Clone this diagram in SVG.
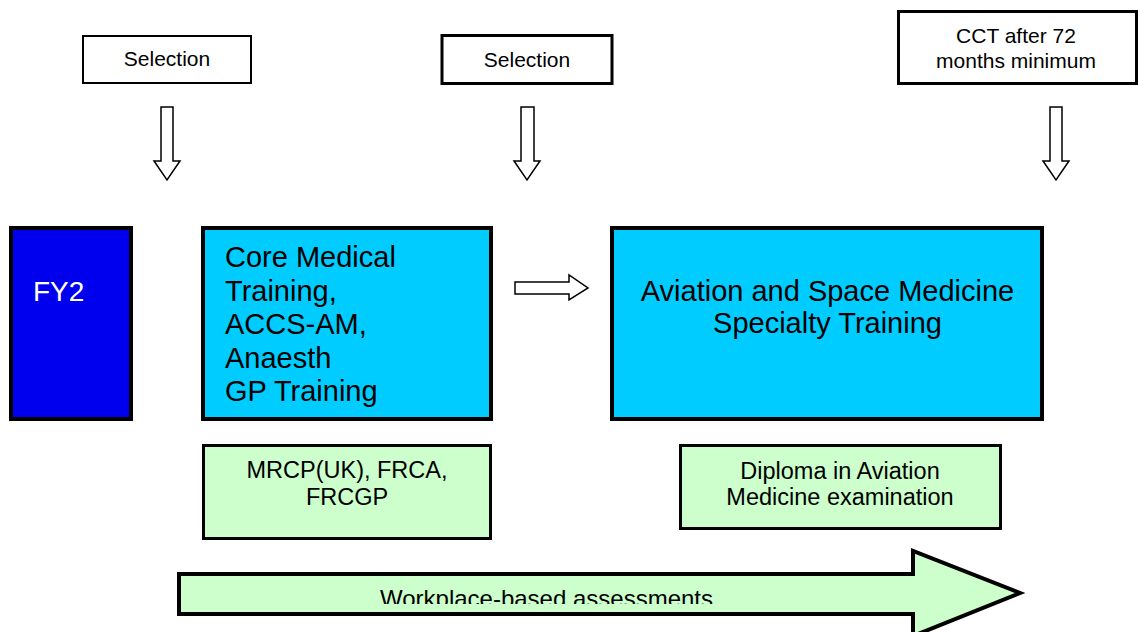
<svg xmlns="http://www.w3.org/2000/svg" width="1138" height="632" viewBox="0 0 1138 632">
<style>
text{font-family:"Liberation Sans",Arial,sans-serif;fill:#000}
.lbl{font-size:21px;text-anchor:middle}
.big{font-size:29px}
.mid{font-size:23.5px;text-anchor:middle}
.box{stroke:#000;stroke-width:3}
.down{fill:#fff;stroke:#000;stroke-width:1.5;stroke-linejoin:miter}
</style>
<defs>
<clipPath id="clipW"><rect x="0" y="0" width="1138" height="604"/></clipPath>
</defs>
<rect width="1138" height="632" fill="#fff"/>
<g id="sel1"><rect class="box" x="83" y="36" width="168" height="47" fill="#fff" style="stroke-width:2"/><text class="lbl" x="167" y="66">Selection</text></g>
<g id="sel2"><rect class="box" x="442" y="35.5" width="170" height="48" fill="#fff"/><text class="lbl" x="527" y="67">Selection</text></g>
<g id="cct"><rect class="box" x="898.5" y="11.5" width="238" height="72" fill="#fff"/><text class="lbl" x="1016" y="43">CCT after 72</text><text class="lbl" x="1016" y="68">months minimum</text></g>
<g id="fy2"><rect x="11" y="228" width="120" height="191" fill="#0000EE" stroke="#000" stroke-width="4"/><text x="33" y="301" style="font-size:28px;fill:#fff">FY2</text></g>
<g id="core"><rect x="203" y="228" width="288" height="191" fill="#00CCFF" stroke="#000" stroke-width="4"/>
<text class="big" x="225" y="267">Core Medical</text>
<text class="big" x="225" y="301">Training,</text>
<text class="big" x="225" y="334">ACCS-AM,</text>
<text class="big" x="225" y="368">Anaesth</text>
<text class="big" x="225" y="401">GP Training</text></g>
<g id="asm"><rect x="612" y="228" width="430" height="191" fill="#00CCFF" stroke="#000" stroke-width="4"/>
<text class="big" x="827.5" y="301" text-anchor="middle">Aviation and Space Medicine</text>
<text class="big" x="827.5" y="333" text-anchor="middle">Specialty Training</text></g>
<g id="mrcp"><rect x="203.5" y="445.5" width="287" height="93" fill="#CCFFCC" stroke="#000" stroke-width="3"/>
<text class="mid" x="347" y="478">MRCP(UK), FRCA,</text>
<text class="mid" x="347" y="505">FRCGP</text></g>
<g id="dam"><rect x="680.5" y="445.5" width="320" height="83" fill="#CCFFCC" stroke="#000" stroke-width="3"/>
<text class="mid" x="840" y="479">Diploma in Aviation</text>
<text class="mid" x="840" y="505">Medicine examination</text></g>
<g id="wba"><polygon points="179,574 913,574 913,551 1020,593 913,636 913,614 179,614" fill="#CCFFCC" stroke="#000" stroke-width="4" stroke-linejoin="miter"/>
<text x="546.5" y="607" text-anchor="middle" clip-path="url(#clipW)" style="font-size:24px">Workplace-based assessments</text></g>
<g id="connectors">
<polygon class="down" points="161,107 173,107 173,161 180,161 167,180 154,161 161,161"/>
<polygon class="down" points="521,107 534,107 534,161 540,161 527,180 514,161 521,161"/>
<polygon class="down" points="1050,107 1062,107 1062,161 1069,161 1056,180 1043,161 1050,161"/>
<polygon class="down" points="515,282 569,282 569,275 588,288 569,300 569,294 515,294"/>
</g>
</svg>
